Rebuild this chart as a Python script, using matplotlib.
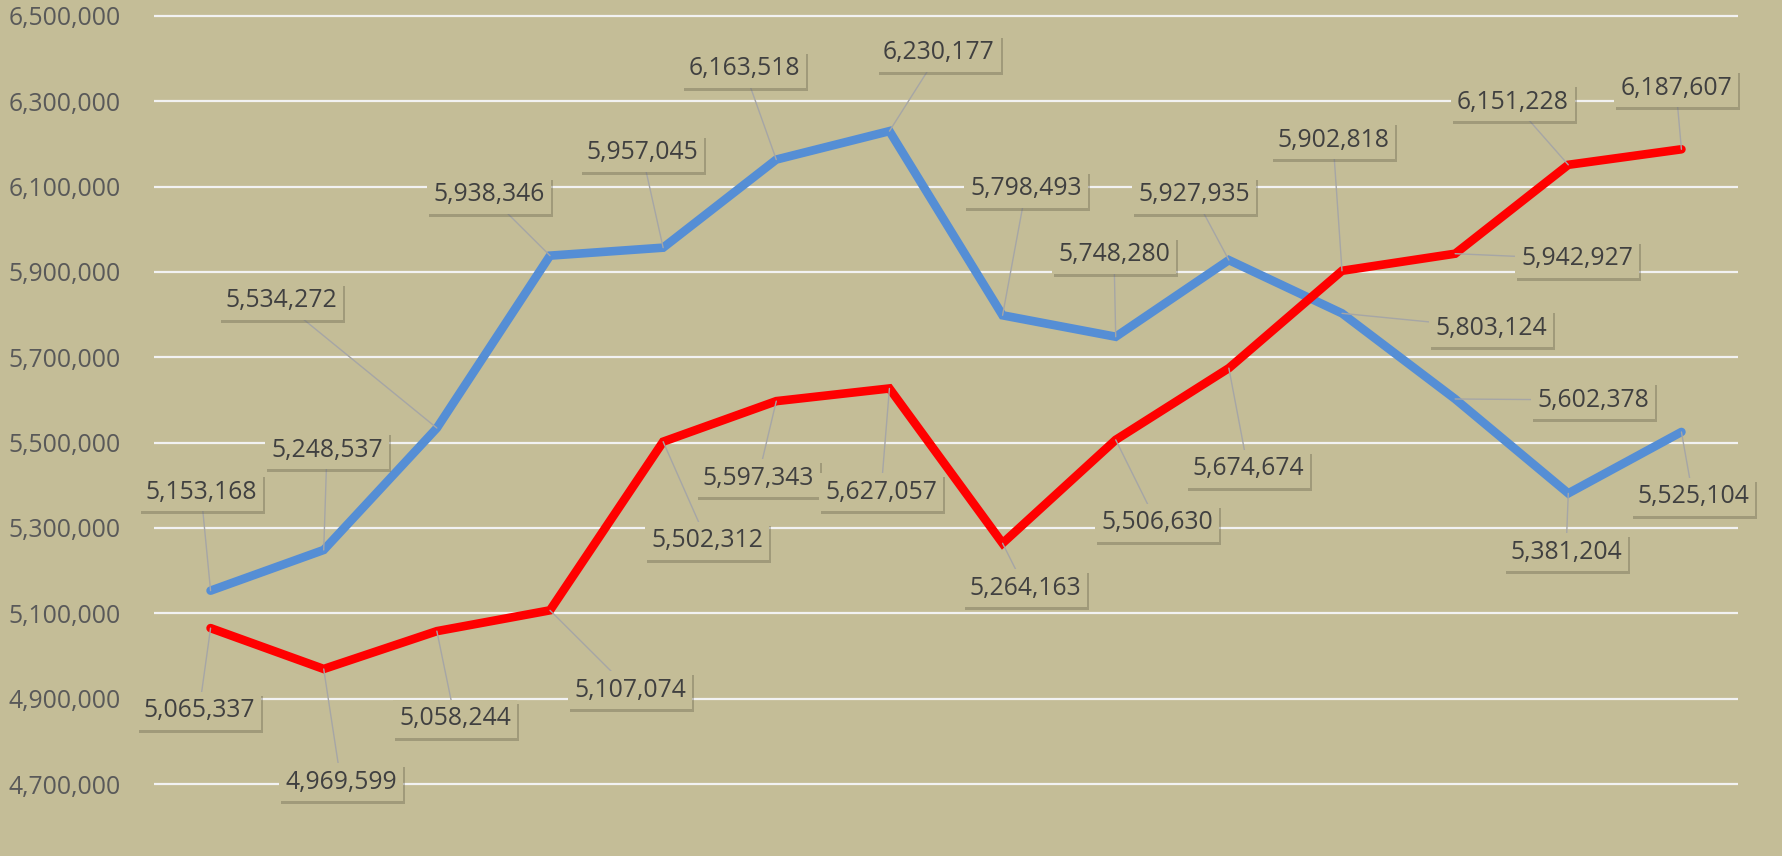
import matplotlib.pyplot as plt
import matplotlib.patheffects as pe
from matplotlib.ticker import FuncFormatter

# datos de las dos series (14 periodos)
blue_vals = [5153168, 5248537, 5534272, 5938346, 5957045, 6163518, 6230177,
             5798493, 5748280, 5927935, 5803124, 5602378, 5381204, 5525104]
red_vals = [5065337, 4969599, 5058244, 5107074, 5502312, 5597343, 5627057,
            5264163, 5506630, 5674674, 5902818, 5942927, 6151228, 6187607]

# posiciones de las etiquetas (pixeles de la figura, origen arriba-izquierda)
blue_lbl = [(201, 492), (327, 450), (281, 301), (489, 195), (642, 153), (744, 69), (939, 53),
            (1026, 189), (1114, 255), (1194, 195), (1491, 328), (1593, 400), (1566, 552), (1693, 497)]
red_lbl = [(199, 711), (341, 782), (455, 719), (630, 690), (707, 541), (758, 478), (881, 492),
           (1025, 588), (1157, 523), (1248, 469), (1333, 140), (1577, 259), (1513, 102), (1676, 88)]

W, H = 1782, 856
bg = '#C4BD97'
plt.rcParams['font.family'] = ['Open Sans', 'DejaVu Sans']

fig = plt.figure(figsize=(W / 100, H / 100), dpi=100, facecolor=bg)
ax = fig.add_axes([154 / W, 0, (1738 - 154) / W, 1])
ax.set_facecolor(bg)

x = list(range(len(blue_vals)))
ax.plot(x, blue_vals, color='#558ED5', lw=6.2, solid_capstyle='round', solid_joinstyle='miter', zorder=3)
ax.plot(x, red_vals, color='#FF0000', lw=6.2, solid_capstyle='round', solid_joinstyle='miter', zorder=3)

ax.set_xlim(-0.5, 13.5)
ax.set_ylim(4531250, 6537500)
ax.set_yticks(range(4700000, 6500001, 200000))
ax.yaxis.set_major_formatter(FuncFormatter(lambda v, p: f'{int(v):,}'))
ax.tick_params(axis='y', length=0, pad=24, labelsize=17.8, labelcolor='#595959')
ax.set_xticks([])
ax.grid(axis='y', color='#F2F2F2', lw=1.6, zorder=0)
ax.set_axisbelow(True)
for s in ax.spines.values():
    s.set_visible(False)

# etiquetas con caja y sombra
def etiquetas(vals, pos):
    for i, (v, (px, py)) in enumerate(zip(vals, pos)):
        t = ax.annotate(f'{v:,}', xy=(i, v), xytext=(px, H - py), textcoords='figure pixels',
                        ha='center', va='center', fontsize=17.8, color='#404040', zorder=5,
                        bbox=dict(boxstyle='square,pad=0.25', fc=bg, ec='none'),
                        arrowprops=dict(arrowstyle='-', color='#A6A6A6', lw=1,
                                        shrinkA=0, shrinkB=0))
        t.get_bbox_patch().set_path_effects([
            pe.withSimplePatchShadow(offset=(1.5, -2.5), shadow_rgbFace='#5E5A45', alpha=0.35)])

etiquetas(blue_vals, blue_lbl)
etiquetas(red_vals, red_lbl)

fig.savefig('out.png', dpi=100, facecolor=bg)
